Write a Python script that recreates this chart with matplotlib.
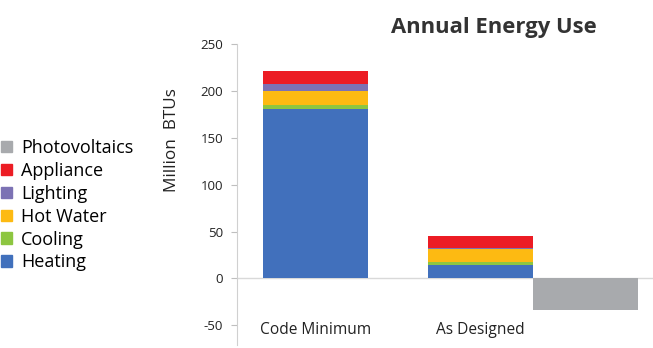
import matplotlib
matplotlib.use("Agg")
import matplotlib.pyplot as plt
from matplotlib.patches import Patch

# data (million BTUs)
categories = ["Code Minimum", "As Designed"]
series = ["Heating", "Cooling", "Hot Water", "Lighting", "Appliance"]
heating = [181, 14]
cooling = [4, 4]
hot_water = [15, 14]
lighting = [8, 1]
appliance = [13, 12]
photovoltaics = [-34]
yticks = [-50, 0, 50, 100, 150, 200, 250]

colors = {
    "Heating": "#4170BC",
    "Cooling": "#8DC641",
    "Hot Water": "#FDBA12",
    "Lighting": "#7C72B4",
    "Appliance": "#EC1C24",
    "Photovoltaics": "#A8AAAD",
}

plt.rcParams["font.family"] = ["Open Sans", "DejaVu Sans"]
plt.rcParams["axes.unicode_minus"] = False

fig = plt.figure(figsize=(6.53, 3.48), dpi=100)
ax = fig.add_axes([237 / 653, 3 / 348, 1 - 237 / 653, (345 - 44.3) / 348])

width = 0.636
x = [0, 1]
bottom = [0, 0]
for name, vals in zip(series, [heating, cooling, hot_water, lighting, appliance]):
    ax.bar(x, vals, width, bottom=bottom, color=colors[name], linewidth=0)
    bottom = [b + v for b, v in zip(bottom, vals)]
ax.bar([1 + width], photovoltaics, width, color=colors["Photovoltaics"], linewidth=0)

ax.axhline(0, color="#D9D9D9", lw=1, zorder=0)
ax.set_xlim(-0.476, 2.045)
ax.set_ylim(-71, 250)
ax.set_yticks(yticks)
ax.tick_params(axis="y", length=4, color="#BFBFBF", labelsize=9.5, pad=6, labelcolor="#222222")
ax.set_xticks([])
for s in ["top", "right", "bottom"]:
    ax.spines[s].set_visible(False)
ax.spines["left"].set_color("#D0D0D0")

for xi, cat in zip(x, categories):
    ax.text(xi, -55, cat, ha="center", va="center", fontsize=11.2, color="#222222")

fig.text(172 / 653, 1 - 140 / 348, "Million  BTUs", rotation=90, ha="center", va="center",
         fontsize=12.3, color="#222222")
fig.text(494 / 653, 1 - 27 / 348, "Annual Energy Use", ha="center", va="center",
         fontsize=15.8, fontweight="bold", color="#333333")

order = ["Photovoltaics", "Appliance", "Lighting", "Hot Water", "Cooling", "Heating"]
handles = [Patch(color=colors[n]) for n in order]
fig.legend(handles, order, loc="upper left", bbox_to_anchor=(-0.012, 1 - 130 / 348),
           frameon=False, fontsize=13, handlelength=0.6, handleheight=0.6,
           handletextpad=0.5, labelspacing=0.27, borderpad=0)

fig.savefig("out.png", dpi=100)
